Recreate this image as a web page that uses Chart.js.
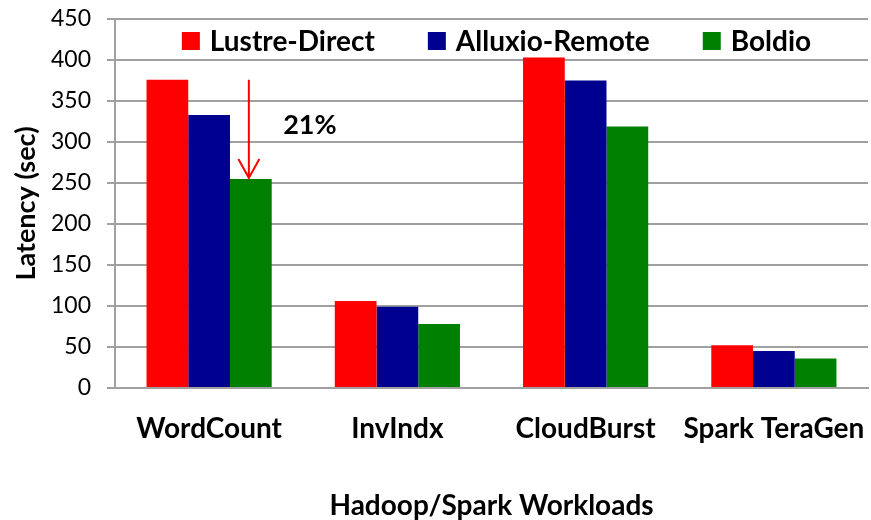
<!DOCTYPE html>
<html>
<head>
<meta charset="utf-8">
<script src="https://cdn.jsdelivr.net/npm/chart.js@4.4.0/dist/chart.umd.min.js"></script>
<style>
  html, body { margin: 0; padding: 0; background: #fff; }
  #wrap { width: 871px; height: 520px; }
</style>
</head>
<body>
<div id="wrap"><canvas id="chart" width="871" height="520"></canvas></div>
<script>
const workloads = ['WordCount', 'InvIndx', 'CloudBurst', 'Spark TeraGen'];
const seriesNames = ['Lustre-Direct', 'Alluxio-Remote', 'Boldio'];
const lustreDirect = [376, 106, 403, 52];
const alluxioRemote = [333, 99, 375, 45];
const boldio = [255, 78, 319, 36];
const yTicks = [0, 50, 100, 150, 200, 250, 300, 350, 400, 450];
const improvementLabel = '21%';

const colors = ['#ff0000', '#000090', '#008000'];
const gridColor = '#a0a0a0';
const fontFamily = 'Lato, "Open Sans", sans-serif';

// legend drawn inside the plot, near the top
const insideLegend = {
  id: 'insideLegend',
  afterDatasetsDraw(chart) {
    const ctx = chart.ctx;
    const area = chart.chartArea;
    ctx.save();
    ctx.font = 'bold 28px ' + fontFamily;
    ctx.textBaseline = 'middle';
    const box = 18, boxGap = 10, itemGap = 53;
    const items = chart.data.datasets.map(ds => ({
      label: ds.label, color: ds.backgroundColor,
      w: box + boxGap + ctx.measureText(ds.label).width
    }));
    const total = items.reduce((s, it) => s + it.w, 0) + itemGap * (items.length - 1);
    let x = (area.left + area.right) / 2 - total / 2 + 5;
    const y = 41;
    items.forEach(it => {
      ctx.fillStyle = it.color;
      ctx.fillRect(x, y - box / 2, box, box);
      ctx.fillStyle = '#000';
      ctx.fillText(it.label, x + box + boxGap, y + 1);
      x += it.w + itemGap;
    });
    ctx.restore();
  }
};

// arrow from Lustre-Direct height down to Boldio bar on WordCount
const improvementArrow = {
  id: 'improvementArrow',
  afterDatasetsDraw(chart) {
    const ctx = chart.ctx;
    const yScale = chart.scales.y;
    const bar = chart.getDatasetMeta(2).data[0];
    const x = bar.x - 2;
    const yTop = yScale.getPixelForValue(lustreDirect[0]);
    const yEnd = yScale.getPixelForValue(boldio[0]) - 1;
    ctx.save();
    ctx.strokeStyle = '#ff0000';
    ctx.lineWidth = 2;
    ctx.beginPath();
    ctx.moveTo(x, yTop);
    ctx.lineTo(x, yEnd);
    ctx.moveTo(x - 10.5, yEnd - 19);
    ctx.lineTo(x, yEnd);
    ctx.lineTo(x + 10.5, yEnd - 19);
    ctx.stroke();
    ctx.fillStyle = '#000';
    ctx.font = 'bold 27px ' + fontFamily;
    ctx.textAlign = 'center';
    ctx.textBaseline = 'middle';
    const mid = yScale.getPixelForValue((lustreDirect[0] + boldio[0]) / 2 + 5);
    ctx.fillText(improvementLabel, x + 61, mid);
    ctx.restore();
  }
};

new Chart(document.getElementById('chart'), {
  type: 'bar',
  data: {
    labels: workloads,
    datasets: [
      { label: seriesNames[0], data: lustreDirect, backgroundColor: colors[0] },
      { label: seriesNames[1], data: alluxioRemote, backgroundColor: colors[1] },
      { label: seriesNames[2], data: boldio, backgroundColor: colors[2] }
    ]
  },
  options: {
    responsive: false,
    animation: false,
    devicePixelRatio: 1,
    layout: { padding: { top: 19, right: 3, left: 0, bottom: 0 } },
    datasets: { bar: { categoryPercentage: 0.665, barPercentage: 1.0 } },
    plugins: {
      legend: { display: false },
      tooltip: { enabled: false }
    },
    scales: {
      x: {
        grid: { display: false },
        border: { display: true, color: gridColor, width: 2 },
        ticks: {
          color: '#000',
          padding: 16,
          maxRotation: 0,
          font: { family: fontFamily, size: 28, weight: 'bold' }
        },
        title: {
          display: true,
          text: 'Hadoop/Spark Workloads',
          color: '#000',
          font: { family: fontFamily, size: 28, weight: 'bold', lineHeight: 1.0 },
          padding: { top: 0, bottom: 0 }
        },
        afterFit(scale) {
          scale.height = 132;
          scale.paddingLeft = 0;
          scale.paddingRight = 0;
        }
      },
      y: {
        min: 0,
        max: 450,
        afterBuildTicks(scale) { scale.ticks = yTicks.map(v => ({ value: v })); },
        grid: { color: gridColor, lineWidth: 2, tickLength: 8 },
        border: { display: true, color: gridColor, width: 2 },
        ticks: {
          color: '#000',
          padding: 16,
          font: { family: fontFamily, size: 23 }
        },
        title: {
          display: true,
          text: 'Latency (sec)',
          color: '#000',
          font: { family: fontFamily, size: 27, weight: 'bold' },
          padding: { top: 10, bottom: 0 }
        },
        afterFit(scale) {
          scale.width = 115;
          scale.paddingTop = 0;
          scale.paddingBottom = 0;
        }
      }
    }
  },
  plugins: [insideLegend, improvementArrow]
});
</script>
</body>
</html>
